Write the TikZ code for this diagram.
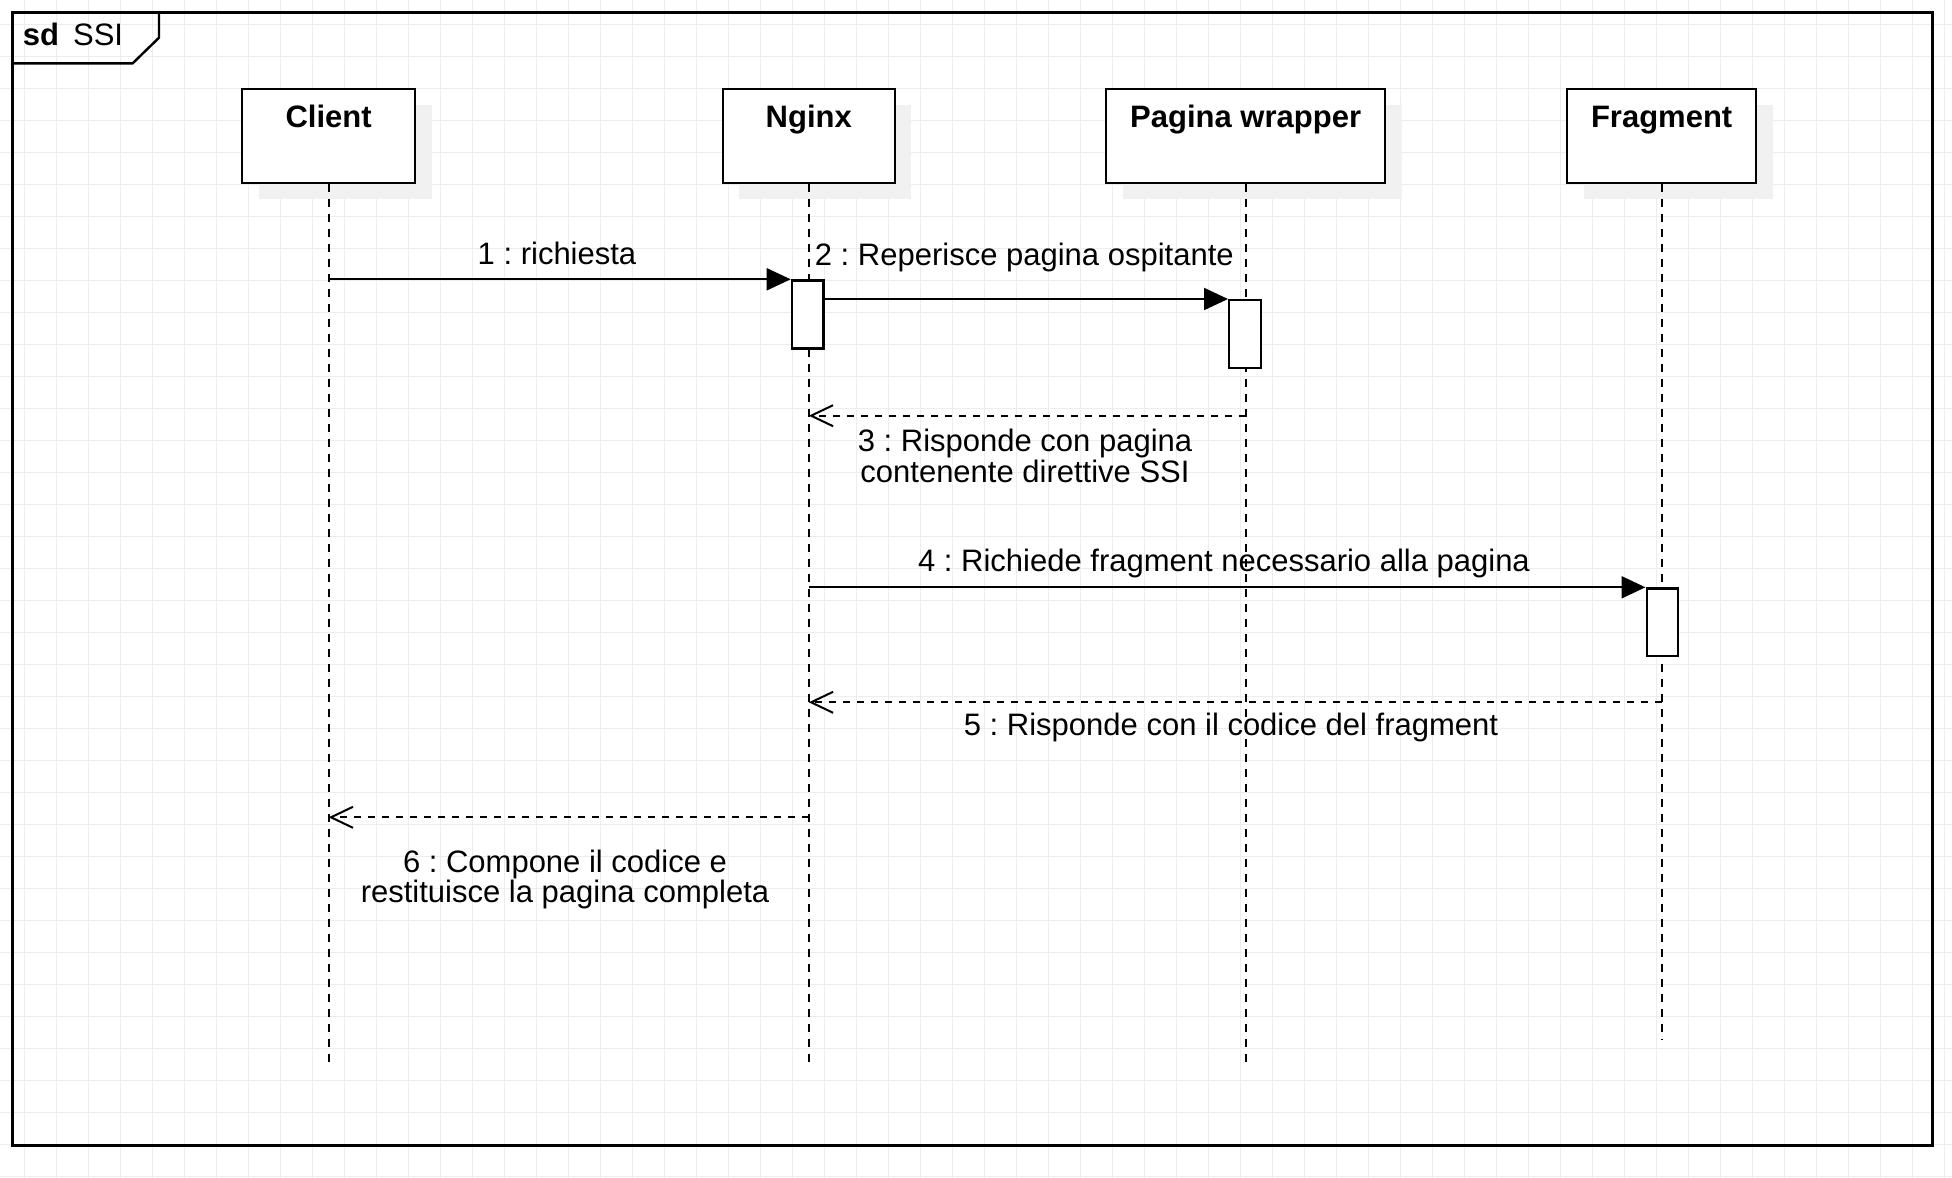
\documentclass[tikz,border=0pt]{standalone}
\usepackage{fontspec}
\setmainfont{Liberation Sans}
\usetikzlibrary{arrows.meta,calc,shadows}
\definecolor{gridc}{HTML}{EDEDED}
\definecolor{shadowc}{HTML}{F1F1F1}
\frenchspacing
\begin{document}
\frenchspacing
\begin{tikzpicture}[x=1pt,y=-1pt,
  every node/.style={font=\fontsize{31}{30.5}\selectfont\frenchspacing, inner sep=0pt},
  lifebox/.style={draw=black, line width=2.3pt, fill=white, minimum height=94pt, anchor=north west,
    drop shadow={fill=shadowc, opacity=1, shadow xshift=16.5pt, shadow yshift=-16.5pt}},
  boxlabel/.style={anchor=base, font=\fontsize{31}{30.5}\selectfont\bfseries},
  actbox/.style={draw=black, line width=2.2pt, fill=white, anchor=north west, minimum width=31.6pt},
  lifeline/.style={line width=2pt, dash pattern=on 8pt off 7pt},
  msg/.style={line width=2.1pt, -{Triangle[length=24pt,width=22pt]}},
  ret/.style={line width=2.1pt, dash pattern=on 7pt off 7pt, -{Straight Barb[length=22pt,width=21pt,line width=2pt]}},
  msglabel/.style={anchor=base, align=center}
]
\useasboundingbox (0,0) rectangle (1952,1178);
\fill[white] (0,0) rectangle (1952,1178);
\foreach \i in {0,...,60} \draw[gridc, line width=1pt] ({24.3+32*\i},0) -- ({24.3+32*\i},1178);
\foreach \j in {0,...,36} \draw[gridc, line width=1pt] (0,{24.3+32*\j}) -- (1952,{24.3+32*\j});

% frame
\node[draw=black, line width=2.8pt, minimum width=1920pt, minimum height=1133pt, anchor=north west] (frame) at (11,11) {};
\draw[line width=2.4pt] (159,11) -- (159,37.7) -- (132.7,63.3) -- (11,63.3);
\node[anchor=base west] (sd) at (22.7,45.7) {\bfseries sd\hspace{14pt}\mdseries SSI};

% lifeline heads
\node[lifebox, minimum width=173pt] (client) at (241,87.5) {};
\node[lifebox, minimum width=172pt] (nginx) at (721.6,87.5) {};
\node[lifebox, minimum width=279pt] (wrapper) at (1105,87.5) {};
\node[lifebox, minimum width=189pt] (fragment) at (1566,87.5) {};
\node[boxlabel] (clientl) at ($(client.north)+(0,40.3)$) {Client};
\node[boxlabel] (nginxl) at ($(nginx.north)+(0,40.3)$) {Nginx};
\node[boxlabel] (wrapperl) at ($(wrapper.north)+(0,40.3)$) {Pagina wrapper};
\node[boxlabel] (fragmentl) at ($(fragment.north)+(0,40.3)$) {Fragment};

% lifeline ends
\coordinate (clientend) at (client.south |- 0,1067);
\coordinate (nginxend) at (nginx.south |- 0,1067);
\coordinate (wrapperend) at (wrapper.south |- 0,1067);
\coordinate (fragmentend) at (fragment.south |- 0,1040);
\draw[lifeline] (client.south) -- (clientend);
\draw[lifeline] (nginx.south) -- (nginxend);
\draw[lifeline] (wrapper.south) -- (wrapperend);
\draw[lifeline] (fragment.south) -- (fragmentend);

% activations
\node[actbox, minimum height=68pt] (act1) at (790.7,279.3) {};
\node[actbox, minimum height=67.7pt] (act2) at (1228,299) {};
\node[actbox, minimum height=67.4pt] (act3) at (1645.5,587.3) {};

% return points
\coordinate (r3) at (0,415.7);
\coordinate (r5) at (0,702.3);
\coordinate (r6) at (0,817.3);

% messages
\draw[msg] (client.south |- act1.north west) -- (act1.north west);
\draw[msg] (act1.east |- act2.north west) -- (act2.north west);
\draw[ret] (wrapper.south |- r3) -- (nginx.south |- r3);
\draw[msg] (nginx.south |- act3.north west) -- (act3.north west);
\draw[ret] (fragment.south |- r5) -- (nginx.south |- r5);
\draw[ret] (nginx.south |- r6) -- (client.south |- r6);

% labels (multi-line: base = last line)
\node[msglabel] (l1) at (557,264.3) {1 : richiesta};
\node[msglabel] (l2) at (1024.3,265) {2 : Reperisce pagina ospitante};
\node[msglabel] (l3) at (1025,482) {3 : Risponde con pagina\\contenente direttive SSI};
\node[msglabel] (l4) at (1224,571.7) {4 : Richiede fragment necessario alla pagina};
\node[msglabel] (l5) at (1231,735) {5 : Risponde con il codice del fragment};
\node[msglabel] (l6) at (565,902.7) {6 : Compone il codice e\\restituisce la pagina completa};
\end{tikzpicture}
\end{document}
